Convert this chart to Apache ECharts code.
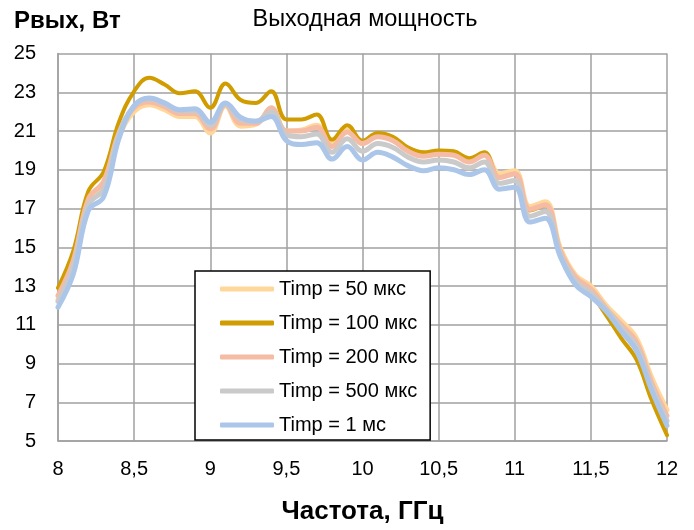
<!DOCTYPE html>
<html>
<head>
<meta charset="utf-8">
<script src="https://cdn.jsdelivr.net/npm/echarts@6/dist/echarts.min.js"></script>
<style>
html,body{margin:0;padding:0;background:#fff;}
#chart{width:694px;height:530px;}
</style>
</head>
<body>
<div id="chart"></div>
<script>
const freq = [8.0, 8.1, 8.2, 8.3, 8.4, 8.5, 8.6, 8.7, 8.8, 8.9, 9.0, 9.1, 9.2, 9.3, 9.4, 9.5, 9.6, 9.7, 9.8, 9.9, 10.0, 10.1, 10.2, 10.3, 10.4, 10.5, 10.6, 10.7, 10.8, 10.9, 11.0, 11.1, 11.2, 11.3, 11.4, 11.5, 11.6, 11.7, 11.8, 11.9, 12.0];
const p50us  = [12.3, 14.1, 17.3, 18.1, 20.7, 22.0, 22.35, 22.1, 21.75, 21.75, 20.9, 22.3, 21.25, 21.35, 22.1, 21.0, 21.05, 21.3, 20.3, 21.05, 20.35, 20.75, 20.55, 20.0, 19.75, 19.85, 19.8, 19.45, 19.85, 18.8, 18.95, 17.1, 17.35, 14.95, 13.55, 13.0, 12.0, 11.2, 10.3, 8.26, 6.6];
const p100us = [12.9, 14.8, 17.9, 18.9, 21.45, 23.05, 23.75, 23.4, 22.95, 23.05, 22.2, 23.45, 22.6, 22.45, 23.05, 21.6, 21.6, 21.85, 20.55, 21.3, 20.5, 20.9, 20.7, 20.15, 19.9, 20.0, 19.95, 19.6, 19.9, 18.6, 18.8, 16.9, 17.15, 14.8, 13.35, 12.6, 11.5, 10.3, 9.2, 7.1, 5.3];
const p200us = [12.5, 14.3, 17.5, 18.4, 20.9, 22.2, 22.5, 22.25, 21.9, 21.9, 21.1, 22.35, 21.4, 21.4, 22.2, 21.0, 21.0, 21.2, 20.2, 20.95, 20.35, 20.7, 20.5, 19.95, 19.7, 19.8, 19.75, 19.4, 19.75, 18.6, 18.8, 16.95, 17.2, 14.8, 13.45, 12.85, 11.85, 11.0, 10.1, 8.0, 6.3];
const p500us = [12.2, 14.0, 17.2, 18.0, 20.8, 22.3, 22.65, 22.4, 22.05, 22.05, 21.3, 22.4, 21.6, 21.5, 22.0, 20.8, 20.7, 20.85, 19.9, 20.6, 19.95, 20.35, 20.15, 19.65, 19.4, 19.5, 19.4, 19.1, 19.4, 18.3, 18.45, 16.6, 16.85, 14.65, 13.25, 12.65, 11.8, 10.85, 9.9, 7.8, 6.05];
const p1ms   = [11.9, 13.6, 16.9, 17.6, 20.6, 22.3, 22.7, 22.45, 22.1, 22.15, 21.45, 22.45, 21.7, 21.5, 21.75, 20.5, 20.3, 20.4, 19.55, 20.2, 19.5, 19.9, 19.65, 19.2, 18.95, 19.1, 19.0, 18.75, 19.0, 18.0, 18.1, 16.3, 16.5, 14.5, 13.05, 12.45, 11.7, 10.66, 9.65, 7.6, 5.8];
const seriesNames = ['Timp = 50 мкс', 'Timp = 100 мкс', 'Timp = 200 мкс', 'Timp = 500 мкс', 'Timp = 1 мс'];
const seriesColors = ['#FFD79B', '#D09C00', '#F6BBA4', '#CACACA', '#ABC6E8'];
const seriesWidths = [5, 4, 5, 5, 5];
const titleText = 'Выходная мощность';
const yName = 'Рвых, Вт';
const xName = 'Частота, ГГц';

const FONT = "'Liberation Sans', Arial, sans-serif";
const allValues = [p50us, p100us, p200us, p500us, p1ms];

const chart = echarts.init(document.getElementById('chart'), null, {renderer: 'canvas'});
chart.setOption({
  animation: false,
  backgroundColor: '#fff',
  title: [
    {text: titleText, left: 360, top: 3, textAlign: 'center',
     textStyle: {fontFamily: FONT, fontSize: 23.5, fontWeight: 'normal', color: '#000'}},
    {text: yName, left: 9, top: 4,
     textStyle: {fontFamily: FONT, fontSize: 24, fontWeight: 'bold', color: '#000'}}
  ],
  grid: {left: 58, right: 27, top: 53.5, bottom: 86.5, containLabel: false},
  xAxis: {
    type: 'value', min: 8, max: 12, interval: 0.5,
    name: xName, nameLocation: 'middle', nameGap: 58,
    nameTextStyle: {fontFamily: FONT, fontSize: 26, fontWeight: 'bold', color: '#000'},
    axisLine: {show: true, lineStyle: {color: '#A0A0A0', width: 1.5}},
    axisTick: {show: false},
    splitLine: {show: true, lineStyle: {color: '#A0A0A0', width: 1.5}},
    axisLabel: {margin: 18, fontFamily: FONT, fontSize: 20, color: '#000',
      formatter: v => String(v).replace('.', ',')}
  },
  yAxis: {
    type: 'value', min: 5, max: 25, interval: 2,
    axisLine: {show: true, lineStyle: {color: '#A0A0A0', width: 1.5}},
    axisTick: {show: false},
    splitLine: {show: true, lineStyle: {color: '#A0A0A0', width: 1.5}},
    axisLabel: {margin: 22, fontFamily: FONT, fontSize: 20, color: '#000'}
  },
  legend: {
    orient: 'vertical', left: 195, top: 271,
    padding: [6, 13, 3, 25], itemGap: 10,
    itemWidth: 54, itemHeight: 5, icon: 'roundRect',
    borderColor: '#000', borderWidth: 1.5, backgroundColor: '#fff',
    textStyle: {fontFamily: FONT, fontSize: 20, color: '#000', lineHeight: 24},
    data: seriesNames
  },
  series: allValues.map((vals, i) => ({
    name: seriesNames[i], type: 'line', smooth: 0.4,
    symbol: 'none', showSymbol: false,
    data: freq.map((f, k) => [f, vals[k]]),
    lineStyle: {color: seriesColors[i], width: seriesWidths[i], cap: 'round', join: 'round'},
    itemStyle: {color: seriesColors[i]}
  }))
});
</script>
</body>
</html>
